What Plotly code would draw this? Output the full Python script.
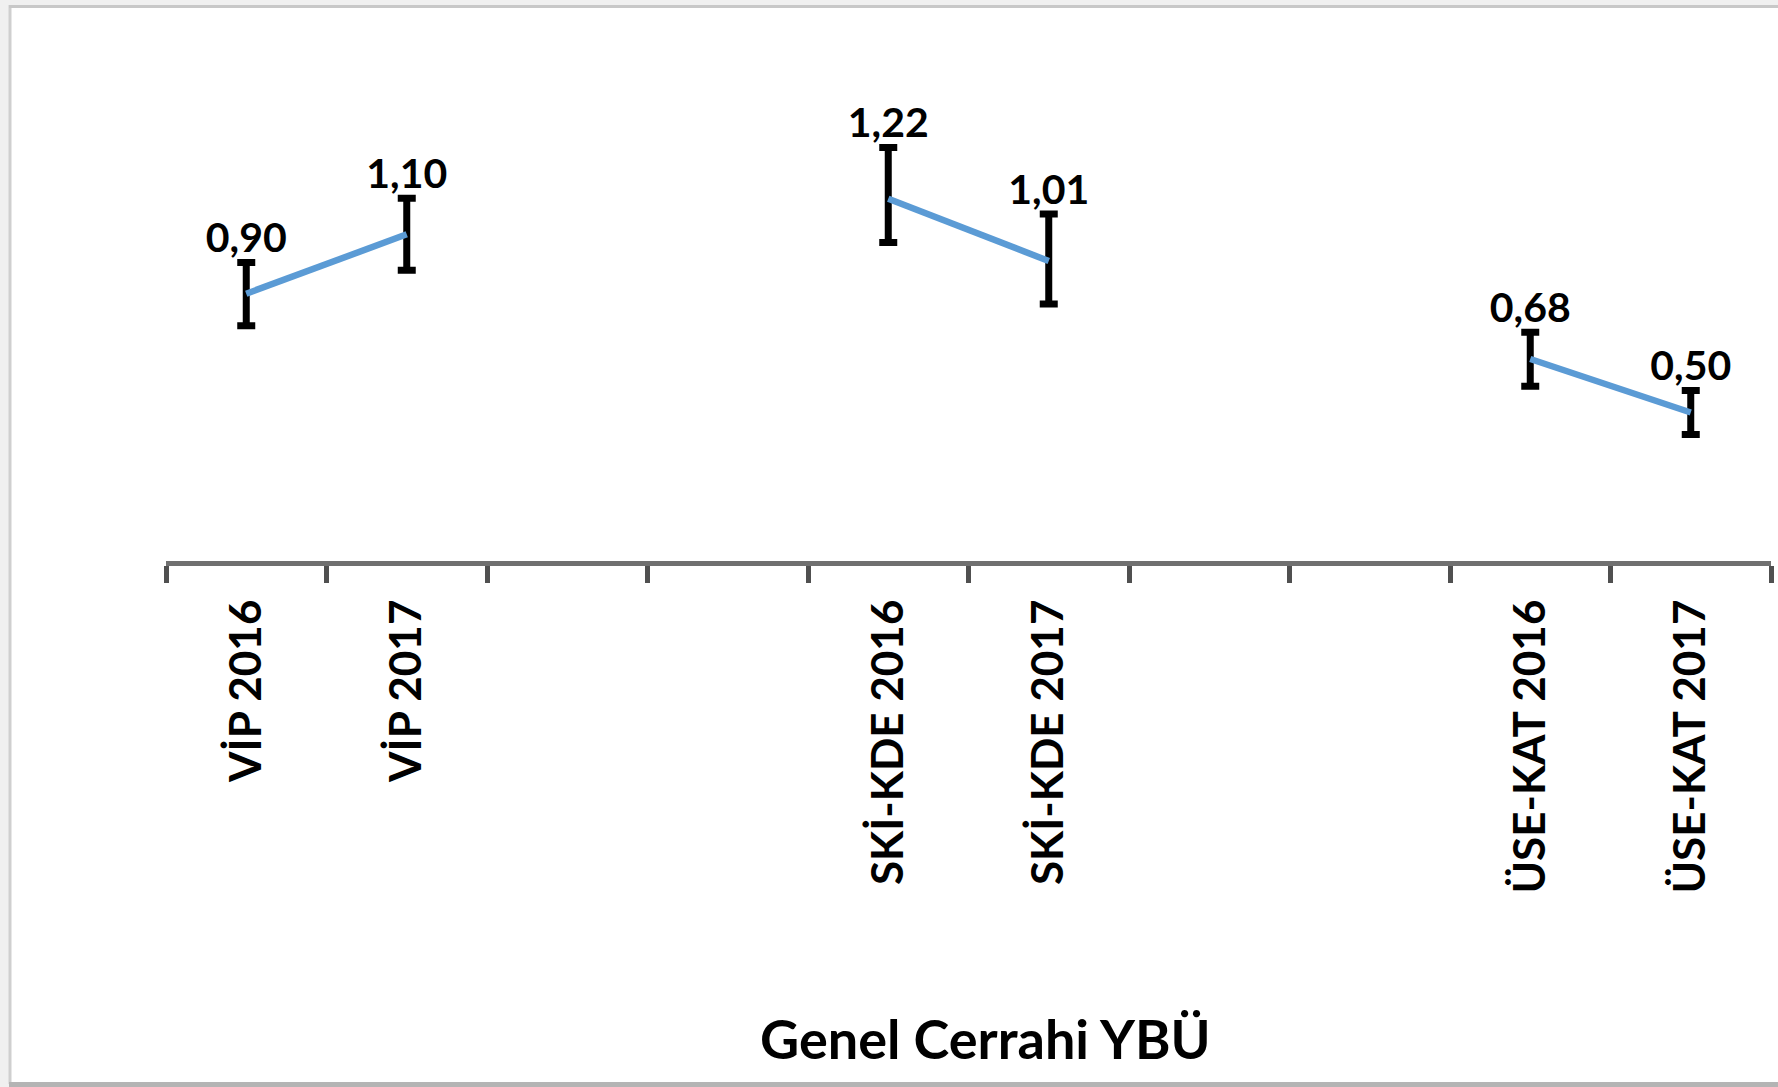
import plotly.graph_objects as go

# ---------------- data ----------------
categories = ["VİP 2016", "VİP 2017", "", "", "SKİ-KDE 2016", "SKİ-KDE 2017",
              "", "", "ÜSE-KAT 2016", "ÜSE-KAT 2017"]
point_categories = ["VİP 2016", "VİP 2017", "SKİ-KDE 2016", "SKİ-KDE 2017",
                    "ÜSE-KAT 2016", "ÜSE-KAT 2017"]
groups = ["VİP", "VİP", "SKİ-KDE", "SKİ-KDE", "ÜSE-KAT", "ÜSE-KAT"]
values = [0.90, 1.10, 1.22, 1.01, 0.68, 0.50]
error_plus = [0.105, 0.121, 0.172, 0.158, 0.090, 0.074]
error_minus = [0.108, 0.121, 0.148, 0.145, 0.092, 0.074]
axis_title = "Genel Cerrahi YBÜ"

# ---------------- layout geometry ----------------
W, H = 1778, 1087
ML, MR, MT, MB = 166, 7, 20, 526
PW, PH = W - ML - MR, H - MT - MB
Y_TOP = PH / 297.0

def px_x(p):
    return (p - ML) / PW

def px_y(p):
    return (H - MB - p) / PH

FONT = "Lato, 'Open Sans', sans-serif"
LINE_COLOR = "#5B9BD5"

fig = go.Figure()

x_idx = [categories.index(c) for c in point_categories]
value_labels = [f"{v:.2f}".replace(".", ",") for v in values]

for g in dict.fromkeys(groups):
    ids = [i for i, gg in enumerate(groups) if gg == g]
    fig.add_trace(go.Scatter(
        x=[x_idx[i] for i in ids],
        y=[values[i] for i in ids],
        mode="lines",
        line=dict(color=LINE_COLOR, width=6.5),
        error_y=dict(type="data", symmetric=False,
                     array=[error_plus[i] for i in ids],
                     arrayminus=[error_minus[i] for i in ids],
                     color="#000000", thickness=7, width=9),
        showlegend=False, hoverinfo="skip",
    ))

fig.add_trace(go.Scatter(
    x=x_idx,
    y=[v + e for v, e in zip(values, error_plus)],
    mode="text",
    text=value_labels,
    textposition="top center",
    textfont=dict(family=FONT, size=41, color="#000000", weight="bold"),
    showlegend=False, hoverinfo="skip", cliponaxis=False,
))

fig.update_xaxes(
    range=[-0.5, len(categories) - 0.5],
    tickmode="array",
    tickvals=list(range(len(categories))),
    ticktext=categories,
    tickangle=-90,
    ticks="outside", ticklen=16, tickcolor="rgba(0,0,0,0)",
    tickfont=dict(family=FONT, size=44, color="#000000", weight="bold"),
    showline=True, linecolor="#707070", linewidth=5,
    showgrid=False, zeroline=False,
    minor=dict(tickmode="array",
               tickvals=[i - 0.5 for i in range(len(categories) + 1)],
               ticks="outside", ticklen=17, tickwidth=5, tickcolor="#505050",
               showgrid=False),
    fixedrange=True,
)
fig.update_yaxes(range=[0, Y_TOP], visible=False, showgrid=False,
                 zeroline=False, fixedrange=True)

shapes = [
    dict(type="rect", xref="paper", yref="paper",
         x0=px_x(10), x1=px_x(1800), y0=px_y(1083), y1=px_y(7),
         fillcolor="#ffffff", line=dict(width=0), layer="below"),
    dict(type="line", xref="paper", yref="paper",
         x0=px_x(10), x1=px_x(10), y0=px_y(1084), y1=px_y(5),
         line=dict(color="#cfcfcf", width=3), layer="below"),
    dict(type="line", xref="paper", yref="paper",
         x0=px_x(9), x1=px_x(1800), y0=px_y(6.5), y1=px_y(6.5),
         line=dict(color="#c8c8c8", width=3), layer="below"),
    dict(type="line", xref="paper", yref="paper",
         x0=px_x(9), x1=px_x(1800), y0=px_y(1084.5), y1=px_y(1084.5),
         line=dict(color="#b4b4b4", width=5), layer="below"),
]

fig.update_layout(
    width=W, height=H, autosize=False,
    margin=dict(l=ML, r=MR, t=MT, b=MB, pad=0),
    paper_bgcolor="#f0f0f0", plot_bgcolor="#ffffff",
    shapes=shapes,
    annotations=[dict(text=axis_title, xref="paper", yref="paper",
                      x=px_x(985), y=px_y(1038), xanchor="center",
                      yanchor="middle", showarrow=False,
                      font=dict(family=FONT, size=54, color="#000000",
                                weight="bold"))],
)

fig.write_html(
    "out.html",
    config={"displayModeBar": False, "staticPlot": True},
    post_script="document.body.style.margin='0';document.body.style.overflow='hidden';",
)
